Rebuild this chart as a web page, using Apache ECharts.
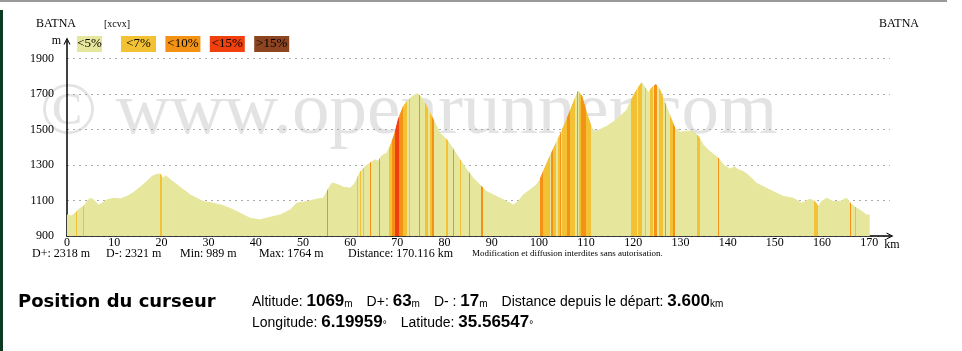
<!DOCTYPE html>
<html><head><meta charset="utf-8">
<script src="https://cdn.jsdelivr.net/npm/echarts@6.0.0/dist/echarts.min.js"></script>
<style>html,body{margin:0;padding:0;background:#fff;}#c{width:962px;height:351px;}</style>
</head><body><div id="c"></div>
<script>
// ---- data ----
const kmValues = [0,1.0,2.1,2.8,3.6,4.2,4.9,5.6,6.7,7.4,8.5,9.9,11.3,12.7,14.1,15.5,16.9,18.0,19.1,19.8,20.3,21.0,21.9,23.3,24.7,26.1,27.5,28.9,31.0,33.2,35.3,37.4,38.8,40.9,43.1,45.2,47.3,48.7,50.8,52.9,54.3,55.1,56.1,57.2,58.6,60.0,61.0,62.1,63.2,64.2,65.3,66.0,66.7,67.8,68.5,69.5,70.2,71.3,72.3,73.4,74.3,75.2,76.2,77.6,79.0,80.5,81.9,83.3,84.7,86.1,87.5,88.9,90.3,91.8,93.2,94.6,95.6,96.7,98.1,99.5,100.2,101.7,103.0,104.5,105.9,107.3,108.3,109.1,110.1,111.2,111.9,112.9,114.4,116.5,117.2,118.6,120.0,121.0,121.8,122.5,123.2,123.9,124.8,125.6,126.7,127.8,128.8,129.9,131.3,132.7,133.8,134.8,136.2,138.0,139.1,140.5,141.5,142.2,143.3,144.7,146.1,147.5,149.6,151.8,153.9,155.7,157.4,158.5,159.2,159.9,161.0,162.4,163.8,165.2,166.0,167.0,168.0,169.4,170.1];
const elevValues = [1019,1013,1038,1057,1069,1094,1113,1104,1075,1085,1104,1113,1109,1123,1145,1175,1208,1236,1249,1249,1226,1240,1217,1189,1160,1132,1113,1094,1085,1070,1047,1019,1000,991,1006,1019,1047,1085,1094,1108,1113,1151,1198,1192,1175,1170,1196,1260,1292,1311,1330,1321,1353,1368,1406,1481,1557,1632,1666,1691,1704,1679,1632,1557,1481,1443,1387,1330,1274,1226,1189,1151,1132,1113,1094,1075,1094,1132,1160,1189,1217,1311,1387,1472,1557,1651,1717,1689,1594,1509,1481,1500,1519,1557,1575,1610,1689,1736,1764,1736,1708,1736,1755,1726,1651,1576,1509,1485,1491,1491,1462,1415,1377,1340,1302,1277,1289,1274,1264,1236,1198,1179,1151,1123,1113,1085,1108,1094,1066,1094,1113,1094,1094,1113,1085,1062,1047,1019,1019];

// slope classes (legend) and their colours
const slopeClasses = ['<5%','<7%','<10%','<15%','>15%'];
const slopeColors  = ['#e6e69c','#f3c234','#f39214','#f0400e','#8c4520'];

// steeper stretches: start km, end km, class index
const stripeStart = [2.0,3.4,3.8,19.7,55.0,61.4,62.0,62.7,64.2,66.2,68.2,68.9,69.5,70.4,71.3,72.5,74.5,75.9,76.9,77.3,78.3,80.4,81.9,83.3,85.1,87.8,100.2,100.9,102.6,103.0,104.0,104.4,104.9,106.0,106.6,108.0,108.4,109.0,110.0,119.6,121.0,122.5,123.6,124.4,125.5,126.8,127.8,128.5,133.4,138.0,158.4,166.0,167.0];
const stripeEnd   = [2.2,3.6,3.9,20.1,55.3,61.6,62.4,62.9,64.5,66.4,68.9,69.5,70.4,71.3,72.0,72.6,74.7,76.5,77.3,77.8,78.4,80.7,82.1,83.5,85.4,88.1,100.9,102.4,102.9,103.7,104.4,104.7,106.0,106.6,107.7,108.3,109.0,109.9,111.1,120.7,121.8,122.7,124.2,125.1,126.2,127.0,128.5,128.9,134.1,138.2,159.2,166.2,167.1];
const stripeClass = [1,1,1,1,2,1,1,1,2,2,1,2,3,2,1,1,2,1,1,2,1,1,2,1,2,2,2,1,2,1,1,2,1,2,1,2,1,2,1,1,1,1,1,2,1,2,1,2,1,2,1,2,1];

const yTickLabels = [900,1100,1300,1500,1700,1900];
const statTexts = ['D+: 2318 m','D-: 2321 m','Min: 989 m','Max: 1764 m','Distance: 170.116 km'];
const routeName = 'BATNA';
const routeTag = '[xcvx]';
const cursorAltitude = '1069', cursorDplus = '63', cursorDminus = '17', cursorDist = '3.600';
const cursorLon = '6.19959', cursorLat = '35.56547';

// ---- build ----
const seriesData = kmValues.map((k, i) => [k, elevValues[i]]);
const pieces = stripeStart.map((s, i) => ({gte: s, lt: stripeEnd[i], color: slopeColors[stripeClass[i]]}))
  .sort((a, b) => a.gte - b.gte);

const SERIF = '"Liberation Serif","Times New Roman",serif';
const SANS = '"Liberation Sans",Arial,sans-serif';
const chevron = 'path://M0,10 L5,0 L10,10 L8.4,10 L5,3.4 L1.6,10 Z';

const graphics = [];
// frame decorations
graphics.push({type:'rect', shape:{x:0,y:0,width:947,height:2}, style:{fill:'#9a9a9a'}, silent:true});
graphics.push({type:'rect', shape:{x:0,y:10,width:3,height:341}, style:{fill:'#0c3a22'}, silent:true});
// watermark
graphics.push({type:'text', x:40, y:151, z:-1, style:{text:'\u00a9 www.openrunner.com', font:'75px ' + SERIF, fill:'#e3e3e3', verticalAlign:'bottom'}, silent:true});
// header
graphics.push({type:'text', x:36, y:24, style:{text:routeName, font:'12px ' + SERIF, fill:'#000', verticalAlign:'middle'}});
graphics.push({type:'text', x:104, y:24, style:{text:routeTag, font:'10px ' + SERIF, fill:'#000', verticalAlign:'middle'}});
graphics.push({type:'text', x:919, y:24, style:{text:routeName, font:'12px ' + SERIF, fill:'#000', align:'right', verticalAlign:'middle'}});
// legend boxes with their labels inside
const legW = [25,35,35,35,35];
slopeClasses.forEach((c, i) => {
  const bx = i === 0 ? 77 : 121 + (i - 1) * 44.4;
  graphics.push({
    type:'rect', shape:{x:bx, y:36, width:legW[i], height:16}, style:{fill:slopeColors[i]},
    textContent:{style:{text:c, font:'13px ' + SERIF, fill:'#000'}},
    textConfig:{position:'inside', insideFill:'#000', insideStroke:'transparent', outsideFill:'#000'}
  });
});
// stats line
const statX = [32,106,180,259,348];
statTexts.forEach((t, i) => {
  graphics.push({type:'text', x:statX[i], y:254, style:{text:t, font:'12px ' + SERIF, fill:'#000', verticalAlign:'middle'}});
});
graphics.push({type:'text', x:472, y:254, style:{text:'Modification et diffusion interdites sans autorisation.', font:'9px ' + SERIF, fill:'#000', verticalAlign:'middle'}});
// cursor block
graphics.push({type:'text', x:18, y:302, style:{text:'Position du curseur', font:'bold 18px "DejaVu Sans",Verdana,sans-serif', fill:'#000', verticalAlign:'middle'}});
const rich = {
  l: {fontFamily: SANS, fontSize: 14, color:'#000', verticalAlign:'bottom'},
  v: {fontFamily: SANS, fontSize: 17, fontWeight:'bold', color:'#000', verticalAlign:'bottom'},
  u: {fontFamily: SANS, fontSize: 10, color:'#000', verticalAlign:'bottom'},
  g: {fontFamily: SANS, fontSize: 14, width: 14, verticalAlign:'bottom'}
};
graphics.push({type:'text', x:252, y:301, style:{
  text:'{l|Altitude: }{v|' + cursorAltitude + '}{u|m}{g| }{l|D+: }{v|' + cursorDplus + '}{u|m}{g| }{l|D- : }{v|' + cursorDminus + '}{u|m}{g| }{l|Distance depuis le d\u00e9part: }{v|' + cursorDist + '}{u|km}',
  rich, verticalAlign:'middle'}});
graphics.push({type:'text', x:252, y:322, style:{
  text:'{l|Longitude: }{v|' + cursorLon + '}{u|\u00b0}{g| }{l|Latitude: }{v|' + cursorLat + '}{u|\u00b0}',
  rich, verticalAlign:'middle'}});

const chart = echarts.init(document.getElementById('c'), null, {renderer:'canvas'});
chart.setOption({
  animation: false,
  backgroundColor: '#fff',
  grid: {left:67, right:72, top:41, bottom:115, containLabel:false},
  xAxis: {
    type:'value', min:0, max:174.4, interval:10,
    axisLine:{show:true, onZero:false, lineStyle:{color:'#000', width:1.5}, symbol:['none', chevron], symbolSize:[7,7]},
    axisTick:{show:false}, splitLine:{show:false},
    axisLabel:{color:'#000', fontFamily:SERIF, fontSize:12, margin:1, showMaxLabel:false},
    name:'km', nameLocation:'end', nameGap:-6,
    nameTextStyle:{color:'#000', fontFamily:SERIF, fontSize:12, align:'left', verticalAlign:'top', padding:[3,0,0,0]}
  },
  yAxis: {
    type:'value', min:900, max:2000, interval:100,
    axisLine:{show:true, onZero:false, lineStyle:{color:'#000', width:1.5}, symbol:['none', chevron], symbolSize:[7,7]},
    axisTick:{show:false},
    axisLabel:{color:'#000', fontFamily:SERIF, fontSize:12, margin:13,
      formatter: v => yTickLabels.indexOf(v) >= 0 ? String(v) : ''},
    splitLine:{show:true, lineStyle:{color:['#aaaaaa','rgba(0,0,0,0)'], width:1, type:[2,4]}},
    name:'m', nameLocation:'end', nameGap:0,
    nameTextStyle:{color:'#000', fontFamily:SERIF, fontSize:12, align:'right', verticalAlign:'middle', padding:[0,6,4,0]}
  },
  visualMap: {
    type:'piecewise', show:false, dimension:0, seriesIndex:0,
    pieces: pieces, outOfRange:{color: slopeColors[0]}
  },
  series: [{
    type:'line', data: seriesData, symbol:'none', showSymbol:false, silent:true,
    lineStyle:{width:1}, areaStyle:{opacity:1, origin:'start'}, z:2
  }],
  graphic: graphics
});
</script></body></html>
